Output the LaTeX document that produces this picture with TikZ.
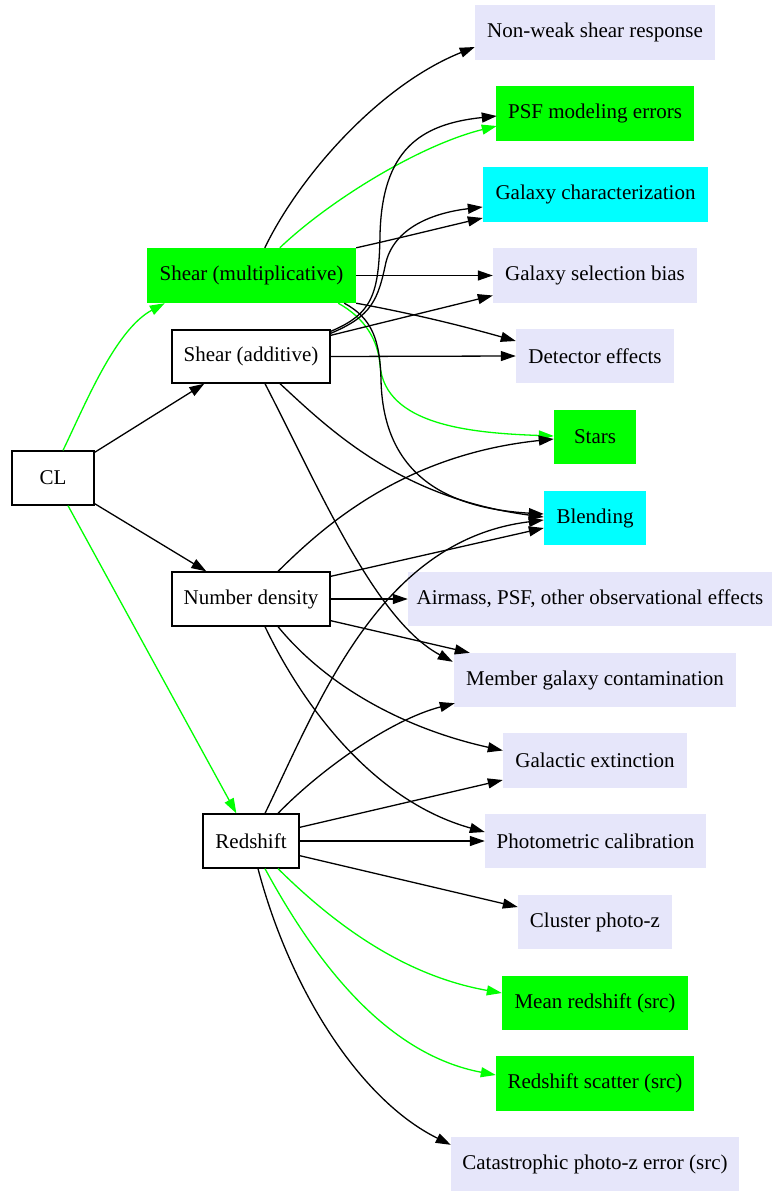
\documentclass[tikz,border=0pt]{standalone}
\usepackage{fontspec}
\setmainfont{Liberation Serif}
\usetikzlibrary{arrows.meta,calc}
\definecolor{gvgreen}{RGB}{0,255,0}
\definecolor{gvcyan}{RGB}{0,255,255}
\definecolor{gvlav}{RGB}{230,230,250}
\begin{document}
\begin{tikzpicture}[x=1pt,y=-1pt,
  base/.style={rectangle, inner sep=0pt, font=\fontsize{21}{24}\selectfont},
  wbox/.style={base, draw=black, line width=1.3pt, fill=white},
  gbox/.style={base, fill=gvgreen},
  cbox/.style={base, fill=gvcyan},
  lbox/.style={base, fill=gvlav},
  blk/.style={draw=black, line width=1.3pt, -{Triangle[length=15pt,width=10pt]}},
  grn/.style={draw=gvgreen, line width=1.3pt, -{Triangle[length=15pt,width=10pt]}},
]
\useasboundingbox (0,0) rectangle (772,1191);
% left column
\node[wbox, minimum width=82pt, minimum height=54pt] (CL) at (53,478) {CL};
\node[gbox, minimum width=209pt, minimum height=55pt] (shm) at (251.5,275.5) {Shear (multiplicative)};
\node[wbox, minimum width=158pt, minimum height=53pt] (sha) at (251,356.5) {Shear (additive)};
\node[wbox, minimum width=158pt, minimum height=54pt] (nd) at (251,599) {Number density};
\node[wbox, minimum width=96pt, minimum height=54pt] (rs) at (251,841) {Redshift};
% right column
\node[lbox, minimum width=240pt, minimum height=55pt] (nw) at (595,32.5) {Non-weak shear response};
\node[gbox, minimum width=198pt, minimum height=55pt] (psf) at (595,113.5) {PSF modeling errors};
\node[cbox, minimum width=225pt, minimum height=55pt] (gc) at (595.5,194.5) {Galaxy characterization};
\node[lbox, minimum width=204pt, minimum height=55pt] (gsb) at (595,275.5) {Galaxy selection bias};
\node[lbox, minimum width=158pt, minimum height=54pt] (det) at (595,356) {Detector effects};
\node[gbox, minimum width=82pt, minimum height=54pt] (stars) at (595,437) {Stars};
\node[cbox, minimum width=102pt, minimum height=54pt] (blend) at (595,518) {Blending};
\node[lbox, minimum width=364pt, minimum height=54pt] (air) at (590,599) {Airmass, PSF, other observational effects};
\node[lbox, minimum width=282pt, minimum height=54pt] (mgc) at (595,680) {Member galaxy contamination};
\node[lbox, minimum width=184pt, minimum height=55pt] (ge) at (595,760.5) {Galactic extinction};
\node[lbox, minimum width=221pt, minimum height=54pt] (pc) at (595.5,841) {Photometric calibration};
\node[lbox, minimum width=154pt, minimum height=54pt] (cpz) at (595,922) {Cluster photo-z};
\node[gbox, minimum width=186pt, minimum height=54pt] (mr) at (595,1003) {Mean redshift (src)};
\node[gbox, minimum width=198pt, minimum height=55pt] (rsc) at (595,1083.5) {Redshift scatter (src)};
\node[lbox, minimum width=288pt, minimum height=54pt] (cat) at (595,1164) {Catastrophic photo-z error (src)};

% CL edges
\draw[grn] ($(CL.north)+(10,0)$) .. controls (85,405) and (115,330) .. ($(shm.south west)+(18,0)$);
\draw[blk] ($(CL.north east)+(0,2)$) -- ($(sha.south west)+(33,0)$);
\draw[blk] ($(CL.south east)+(0,-2)$) -- ($(nd.north west)+(35,0)$);
\draw[grn] ($(CL.south)+(15,0)$) -- ($(rs.north west)+(34,0)$);

% Shear (multiplicative)
\draw[blk] ($(shm.north west)+(118,0)$) .. controls (300,175) and (380,85) .. ($(nw.west)+(0,14.5)$);
\draw[grn] ($(shm.north west)+(133,0)$) .. controls (330,200) and (420,145) .. ($(psf.west)+(1,12.5)$);
\draw[blk] (shm.north east) .. controls (400,238) and (440,228) .. ($(gc.west)+(0,23.5)$);
\draw[blk] (shm.east) -- (gsb.west);
\draw[blk] (shm.south east) .. controls (420,315) and (470,328) .. ($(det.west)+(0,-15)$);
\draw[grn] ($(shm.south east)+(-18,0)$) .. controls (365,318) and (378,340) .. (380,365)
   .. controls (385,425) and (470,433) .. ($(stars.west)+(0,-1)$);
\draw[blk] ($(shm.south east)+(-12,0)$) .. controls (372,318) and (380,340) .. (381,380)
   .. controls (383,470) and (440,508) .. ($(blend.west)+(0,-4)$);

% Shear (additive)
\draw[blk] ($(sha.north east)+(0,2)$) .. controls (372,314) and (379,295) .. (380,235)
   .. controls (382,150) and (420,124) .. ($(psf.west)+(1,2.5)$);
\draw[blk] ($(sha.north east)+(0,4)$) .. controls (372,316) and (378,300) .. (386,262)
   .. controls (396,224) and (440,212) .. ($(gc.west)+(0,12.5)$);
\draw[blk] ($(sha.north east)+(0,6)$) -- ($(gsb.west)+(0,20)$);
\draw[blk] (sha.east) -- (det.west);
\draw[blk] ($(sha.south)+(29,0)$) .. controls (330,430) and (400,498) .. ($(blend.west)+(0,-1)$);
\draw[blk] ($(sha.south)+(14,0)$) .. controls (320,490) and (375,620) .. ($(mgc.north west)+(-1,9)$);

% Number density
\draw[blk] ($(nd.north)+(27,0)$) .. controls (320,530) and (400,455) .. ($(stars.west)+(0,2)$);
\draw[blk] ($(nd.north east)+(0,5)$) -- ($(blend.west)+(0,10)$);
\draw[blk] (nd.east) -- (air.west);
\draw[blk] ($(nd.south east)+(0,-6)$) -- ($(mgc.north west)+(16,0)$);
\draw[blk] ($(nd.south)+(27,0)$) .. controls (330,690) and (410,730) .. ($(ge.west)+(0,-10)$);
\draw[blk] ($(nd.south)+(14,0)$) .. controls (300,700) and (370,800) .. ($(pc.west)+(0,-9)$);

% Redshift
\draw[blk] ($(rs.north)+(27,0)$) .. controls (320,770) and (390,720) .. ($(mgc.south west)+(1,-4)$);
\draw[blk] ($(rs.north)+(14,0)$) .. controls (320,700) and (380,540) .. ($(blend.west)+(0,2)$);
\draw[blk] ($(rs.north east)+(0,14)$) -- ($(ge.west)+(0,19.5)$);
\draw[blk] (rs.east) -- (pc.west);
\draw[blk] ($(rs.south east)+(0,-13)$) -- ($(cpz.west)+(0,-15)$);
\draw[grn] ($(rs.south)+(27,0)$) .. controls (330,920) and (400,975) .. ($(mr.west)+(0,-10)$);
\draw[grn] ($(rs.south)+(14,0)$) .. controls (320,970) and (390,1055) .. ($(rsc.west)+(0,-8.5)$);
\draw[blk] ($(rs.south)+(7,0)$) .. controls (290,990) and (360,1100) .. ($(cat.north west)+(0,8)$);
\end{tikzpicture}
\end{document}
